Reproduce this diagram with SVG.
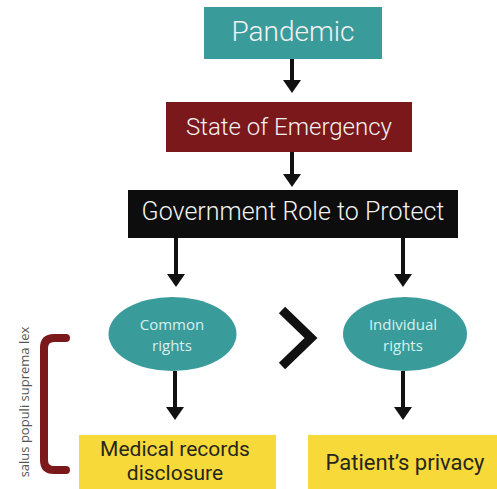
<svg xmlns="http://www.w3.org/2000/svg" width="497" height="489" viewBox="0 0 497 489">
<style>
.box-text{font-family:Roboto,"Liberation Sans",sans-serif;fill:#f2f2f2;text-anchor:middle;font-weight:300}
.dark-text{font-family:Roboto,"Liberation Sans",sans-serif;fill:#26261c;text-anchor:middle}
.ell-text{font-family:"Open Sans","Liberation Sans",sans-serif;fill:#d8f1ec;text-anchor:middle;font-size:15px}
.conn{stroke:#111;stroke-width:4;fill:none;marker-end:url(#ah)}
.teal{fill:#3a9b9b}
.yellow{fill:#f8d93a}
</style>
<defs>
<marker id="ah" markerUnits="userSpaceOnUse" markerWidth="14" markerHeight="20" viewBox="0 0 14 20" refX="7" refY="10" orient="auto">
<path d="M0,1 L13,10 L0,19 z" fill="#111"/>
</marker>
</defs>
<rect width="497" height="489" fill="#fff"/>
<g id="pandemic">
<rect class="teal" x="204" y="7" width="178" height="52"/>
<text class="box-text" x="293" y="41" font-size="28">Pandemic</text>
</g>
<g id="emergency">
<rect x="166" y="102" width="246" height="50" fill="#7a181b"/>
<text class="box-text" x="289" y="135" font-size="24">State of Emergency</text>
</g>
<g id="government">
<rect x="128" y="190" width="330" height="48" fill="#0d0d0d"/>
<text class="box-text" x="293" y="220" font-size="25">Government Role to Protect</text>
</g>
<g id="common">
<ellipse class="teal" cx="172.5" cy="334" rx="64" ry="37"/>
<text class="ell-text" x="172" y="330">Common</text>
<text class="ell-text" x="172" y="351">rights</text>
</g>
<g id="individual">
<ellipse class="teal" cx="405" cy="334" rx="62" ry="37"/>
<text class="ell-text" x="403" y="330">Individual</text>
<text class="ell-text" x="403" y="351">rights</text>
</g>
<g id="greater">
<polyline points="282,310 311,338 282,366" fill="none" stroke="#111" stroke-width="9" stroke-linejoin="miter"/>
</g>
<g id="medical">
<rect class="yellow" x="79" y="435" width="197" height="54"/>
<text class="dark-text" x="175" y="456" font-size="21">Medical records</text>
<text class="dark-text" x="175" y="480" font-size="21">disclosure</text>
</g>
<g id="privacy">
<rect class="yellow" x="308" y="435" width="189" height="54"/>
<text class="dark-text" x="405" y="470" font-size="22">Patient’s privacy</text>
</g>
<g id="bracket">
<path d="M66,338 H54 Q44,338 44,348 V460 Q44,470 54,470 H66" fill="none" stroke="#7a181b" stroke-width="8" stroke-linecap="round"/>
<text transform="translate(29,402) rotate(-90)" font-family="'Open Sans','Liberation Sans',sans-serif" font-size="13" fill="#555" text-anchor="middle">salus populi suprema lex</text>
</g>
<g id="connectors">
<line class="conn" x1="292" y1="59" x2="292" y2="87"/>
<line class="conn" x1="292" y1="152" x2="292" y2="181"/>
<line class="conn" x1="176" y1="238" x2="176" y2="281"/>
<line class="conn" x1="403" y1="238" x2="403" y2="281"/>
<line class="conn" x1="175" y1="371" x2="175" y2="414"/>
<line class="conn" x1="403" y1="371" x2="403" y2="414"/>
</g>
</svg>
